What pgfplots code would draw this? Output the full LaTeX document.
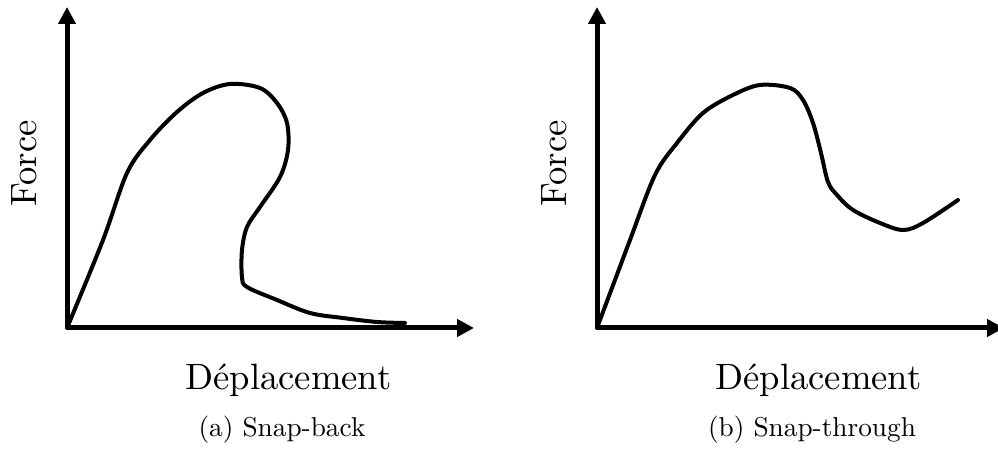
\documentclass[border=0pt]{standalone}
\usepackage{fontspec}
\usepackage{pgfplots}
\pgfplotsset{compat=1.18}
\usetikzlibrary{arrows.meta}

% keep the 10pt optical size when scaling up
\newfontfamily\lmten{lmroman10-regular.otf}

\pgfplotsset{
  snap/.style={
    x=1bp, y=1bp,
    xmin=0, xmax=407, ymin=0, ymax=321,
    axis lines=left,
    axis line style={line width=5bp, -{Triangle[length=17bp,width=17bp]}},
    xtick=\empty, ytick=\empty,
    clip=false,
    anchor=origin,
    xlabel={D\'eplacement},
    ylabel={Force},
    label style={font=\lmten\fontsize{36.8}{44}\selectfont},
    xlabel style={at={(axis cs:221.5,-62)}, anchor=base},
    ylabel style={at={(axis cs:-31,164.5)}, anchor=base, rotate=0},
    title style={font=\lmten\fontsize{27.4}{33}\selectfont, at={(axis cs:215,-114)}, anchor=base},
  },
  curve/.style={black, line width=4bp, smooth, tension=0.55, no markers, line join=round, line cap=round},
}

\begin{document}
\begin{tikzpicture}[x=1bp,y=1bp]
\useasboundingbox (0,0) rectangle (998,455);

\begin{axis}[snap, at={(67,127)}, title={(a) Snap-back}]
\addplot[curve] coordinates {
  (0,0)(36,88)(60,155)(83,188)(110,216)(136,235)(163,244)(193,240)
  (210,225)(220,205)(221,178)(213,151)(193,121)(180,101)(175,78)
  (175,51)(180,41)(210,28)(243,15)(276,10)(310,6)(338,5)};
\end{axis}

\begin{axis}[snap, at={(597,127)}, title={(b) Snap-through}]
\addplot[curve] coordinates {
  (0,0)(33,88)(58,153)(80,185)(106,215)(136,233)(163,243)(193,240)
  (206,228)(216,205)(224,175)(231,146)(240,133)(256,118)(283,105)(306,98)
  (326,105)(361,128)};
\end{axis}
\end{tikzpicture}
\end{document}
